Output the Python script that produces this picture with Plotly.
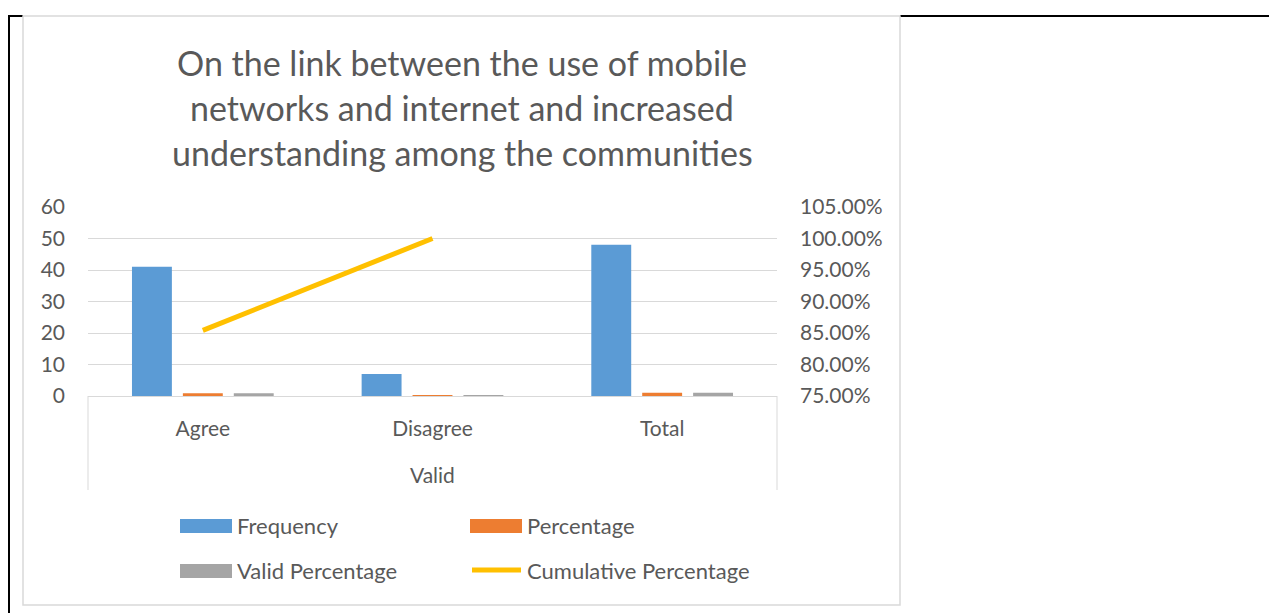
import plotly.graph_objects as go

# Survey responses
categories = ["Agree", "Disagree", "Total"]
group_label = "Valid"
frequency = [41, 7, 48]
percentage = [0.85, 0.15, 1.0]
valid_percentage = [0.85, 0.15, 1.0]
cumulative_percentage = [0.8542, 1.0, None]

series_names = ["Frequency", "Percentage", "Valid Percentage", "Cumulative Percentage"]
colors = ["#5B9BD5", "#ED7D31", "#A5A5A5", "#FFC000"]

title_lines = [
    "On the link between the use of mobile",
    "networks and internet and increased",
    "understanding among the communities",
]

W, H = 1269, 613
PL, PR, PT, PB = 88, 777, 207, 396   # plot area in pixels
FONT = "Lato, Calibri, sans-serif"
TEXT = "#595959"
GRID = "#D9D9D9"
TICK_SIZE = 21


def px(x):
    return (x - PL) / (PR - PL)


def py(y):
    return (PB - y) / (PB - PT)


fig = go.Figure()
for name, vals, col in zip(series_names[:3], [frequency, percentage, valid_percentage], colors[:3]):
    fig.add_trace(go.Bar(x=categories, y=vals, name=name, marker=dict(color=col, line_width=0),
                         showlegend=False))
fig.add_trace(go.Scatter(x=categories, y=cumulative_percentage, name=series_names[3], yaxis="y2",
                         mode="lines", line=dict(color=colors[3], width=5),
                         connectgaps=False, showlegend=False))

shapes = [
    # page frame lines
    dict(type="line", xref="paper", yref="paper", x0=px(9), x1=px(9), y0=py(15), y1=py(613),
         line=dict(color="black", width=2)),
    dict(type="line", xref="paper", yref="paper", x0=px(8), x1=px(23), y0=py(16), y1=py(16),
         line=dict(color="black", width=2)),
    dict(type="line", xref="paper", yref="paper", x0=px(900), x1=px(1269), y0=py(16), y1=py(16),
         line=dict(color="black", width=2)),
    # chart area border
    dict(type="rect", xref="paper", yref="paper", x0=px(23), x1=px(900), y0=py(16), y1=py(605),
         line=dict(color=GRID, width=1.5)),
    # group dividers of the two-level category axis
    dict(type="line", xref="paper", yref="paper", x0=0, x1=0, y0=0, y1=py(490),
         line=dict(color=GRID, width=1)),
    dict(type="line", xref="paper", yref="paper", x0=1, x1=1, y0=0, y1=py(490),
         line=dict(color=GRID, width=1)),
]

annotations = []
for i, line in enumerate(title_lines):
    annotations.append(dict(text=line, xref="paper", yref="paper", x=px(462), y=py(62 + i * 45.5),
                            xanchor="center", yanchor="middle", showarrow=False,
                            font=dict(family=FONT, size=34, color=TEXT)))

# outer category label
annotations.append(dict(text=group_label, xref="paper", yref="paper", x=0.5, y=py(474),
                        xanchor="center", yanchor="middle", showarrow=False,
                        font=dict(family=FONT, size=TICK_SIZE, color=TEXT)))

# legend, laid out in two columns
legend_pos = [(180, 526), (470, 526), (180, 571), (470, 571)]
for i, (name, col) in enumerate(zip(series_names, colors)):
    lx, ly = legend_pos[i]
    if i < 3:
        shapes.append(dict(type="rect", xref="paper", yref="paper", x0=px(lx), x1=px(lx + 52),
                           y0=py(ly - 7), y1=py(ly + 7), fillcolor=col, line_width=0))
    else:
        shapes.append(dict(type="line", xref="paper", yref="paper", x0=px(lx + 2), x1=px(lx + 51),
                           y0=py(ly - 1), y1=py(ly - 1), line=dict(color=col, width=5)))
    annotations.append(dict(text=name, xref="paper", yref="paper", x=px(lx + 55), y=py(ly - 1),
                            xanchor="left", yanchor="middle", showarrow=False,
                            font=dict(family=FONT, size=22, color=TEXT)))

fig.update_layout(
    width=W, height=H,
    margin=dict(l=PL, r=W - PR, t=PT, b=H - PB, pad=0),
    paper_bgcolor="white", plot_bgcolor="white",
    barmode="group", bargap=0.335, bargroupgap=0.216,
    font=dict(family=FONT, size=TICK_SIZE, color=TEXT),
    xaxis=dict(type="category", range=[-0.5, 2.5], showline=True, linecolor=GRID, linewidth=1,
               ticks="", tickfont=dict(family=FONT, size=TICK_SIZE, color=TEXT), automargin=False,
               ticklabelstandoff=14),
    yaxis=dict(range=[0, 60], dtick=10, showgrid=True, gridcolor=GRID, gridwidth=1,
               zeroline=False, showline=False, ticks="", ticklabelstandoff=22,
               tickfont=dict(family=FONT, size=TICK_SIZE, color=TEXT), automargin=False),
    yaxis2=dict(range=[0.75, 1.05], dtick=0.05, tickformat=".2%", overlaying="y", side="right",
                showgrid=False, zeroline=False, showline=False, ticks="", ticklabelstandoff=22,
                tickfont=dict(family=FONT, size=TICK_SIZE, color=TEXT), automargin=False),
    shapes=shapes,
    annotations=annotations,
)

fig.write_html("out.html")
